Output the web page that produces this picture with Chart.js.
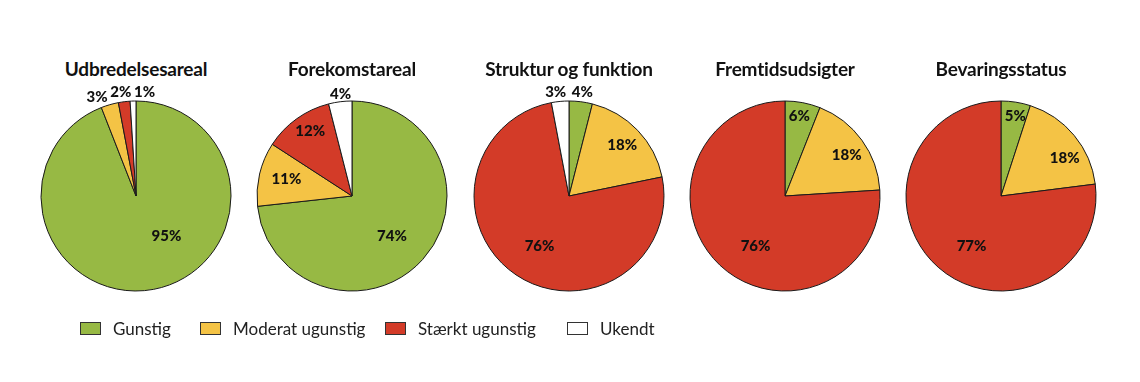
<!DOCTYPE html>
<html><head><meta charset="utf-8">
<script src="https://cdn.jsdelivr.net/npm/chart.js@4/dist/chart.umd.min.js"></script>
<style>
html,body{margin:0;padding:0;background:#fff;width:1140px;height:382px;overflow:hidden;font-family:Lato,"Open Sans",sans-serif;}
.wrap{position:absolute;width:216px;height:260px;top:66px;}
.title{position:absolute;width:240px;text-align:center;top:57px;font-weight:700;font-size:19px;color:#111;letter-spacing:-0.2px;}
.legend{position:absolute;top:317px;left:0;width:1140px;height:24px;font-size:17px;color:#222;}
.li{position:absolute;top:0;display:flex;align-items:center;height:22px;}
.sw{width:21px;height:13px;border:1px solid #333;margin-right:12px;box-sizing:border-box;}
</style></head>
<body>
<div id="root"></div>
<div class="legend" id="legend"></div>
<script>
const categories = ["Gunstig", "Moderat ugunstig", "Stærkt ugunstig", "Ukendt"];
const chartTitles = ["Udbredelsesareal", "Forekomstareal", "Struktur og funktion", "Fremtidsudsigter", "Bevaringsstatus"];
const udbredelsesareal = [95, 3, 2, 1];
const forekomstareal = [74, 11, 12, 4];
const strukturOgFunktion = [4, 18, 76, 3];
const fremtidsudsigter = [6, 18, 76, 0];
const bevaringsstatus = [5, 18, 77, 0];
const seriesValues = [udbredelsesareal, forekomstareal, strukturOgFunktion, fremtidsudsigter, bevaringsstatus];

const colors = ["#97b944", "#f4c345", "#d33b28", "#ffffff"];
const centersX = [136, 352, 569, 785, 1001];
// label placement per chart, per slice: [dx, dy] in radius units from centre (styling only)
const labelPos = [
  [[0.32,0.42],[-0.41,-1.04],[-0.16,-1.09],[0.09,-1.09]],
  [[0.42,0.42],[-0.69,-0.18],[-0.44,-0.68],[-0.12,-1.07]],
  [[0.14,-1.09],[0.56,-0.53],[-0.31,0.53],[-0.14,-1.09]],
  [[0.15,-0.84],[0.65,-0.43],[-0.31,0.53],null],
  [[0.15,-0.84],[0.67,-0.40],[-0.31,0.53],null]
];

const labelPlugin = {
  id: 'pctLabels',
  afterDatasetsDraw(chart) {
    const ctx = chart.ctx;
    const meta = chart.getDatasetMeta(0);
    const idx = chart.options.plugins.pctLabels.idx;
    const vals = chart.data.datasets[0].data;
    ctx.save();
    ctx.font = "900 15px Lato, 'Open Sans', sans-serif";
    ctx.fillStyle = "#111";
    ctx.textAlign = "center";
    ctx.textBaseline = "middle";
    meta.data.forEach((arc, i) => {
      const p = labelPos[idx][i];
      if (!p || !vals[i]) return;
      const r = arc.outerRadius;
      ctx.fillText(vals[i] + "%", arc.x + p[0]*r, arc.y + p[1]*r);
    });
    ctx.restore();
  }
};

const root = document.getElementById('root');
seriesValues.forEach((vals, k) => {
  const t = document.createElement('div');
  t.className = 'title';
  t.style.left = (centersX[k] - 120) + 'px';
  t.textContent = chartTitles[k];
  root.appendChild(t);
  const w = document.createElement('div');
  w.className = 'wrap';
  w.style.left = (centersX[k] - 108) + 'px';
  const c = document.createElement('canvas');
  w.appendChild(c);
  root.appendChild(w);
  new Chart(c, {
    type: 'pie',
    data: { labels: categories, datasets: [{ data: vals, backgroundColor: colors, borderColor: "#1a1a1a", borderWidth: 1 }] },
    options: {
      responsive: true, maintainAspectRatio: false, animation: false,
      radius: 95,
      layout: { padding: { top: 35, bottom: 35, left: 13, right: 13 } },
      plugins: { legend: { display: false }, tooltip: { enabled: false }, title: { display: false }, pctLabels: { idx: k } }
    },
    plugins: [labelPlugin]
  });
});

const legendX = [80, 200, 385, 567];
const leg = document.getElementById('legend');
categories.forEach((name, i) => {
  const d = document.createElement('div');
  d.className = 'li';
  d.style.left = legendX[i] + 'px';
  const s = document.createElement('span');
  s.className = 'sw';
  s.style.background = colors[i];
  d.appendChild(s);
  const tx = document.createElement('span');
  tx.textContent = name;
  d.appendChild(tx);
  leg.appendChild(d);
});
</script>
</body></html>
